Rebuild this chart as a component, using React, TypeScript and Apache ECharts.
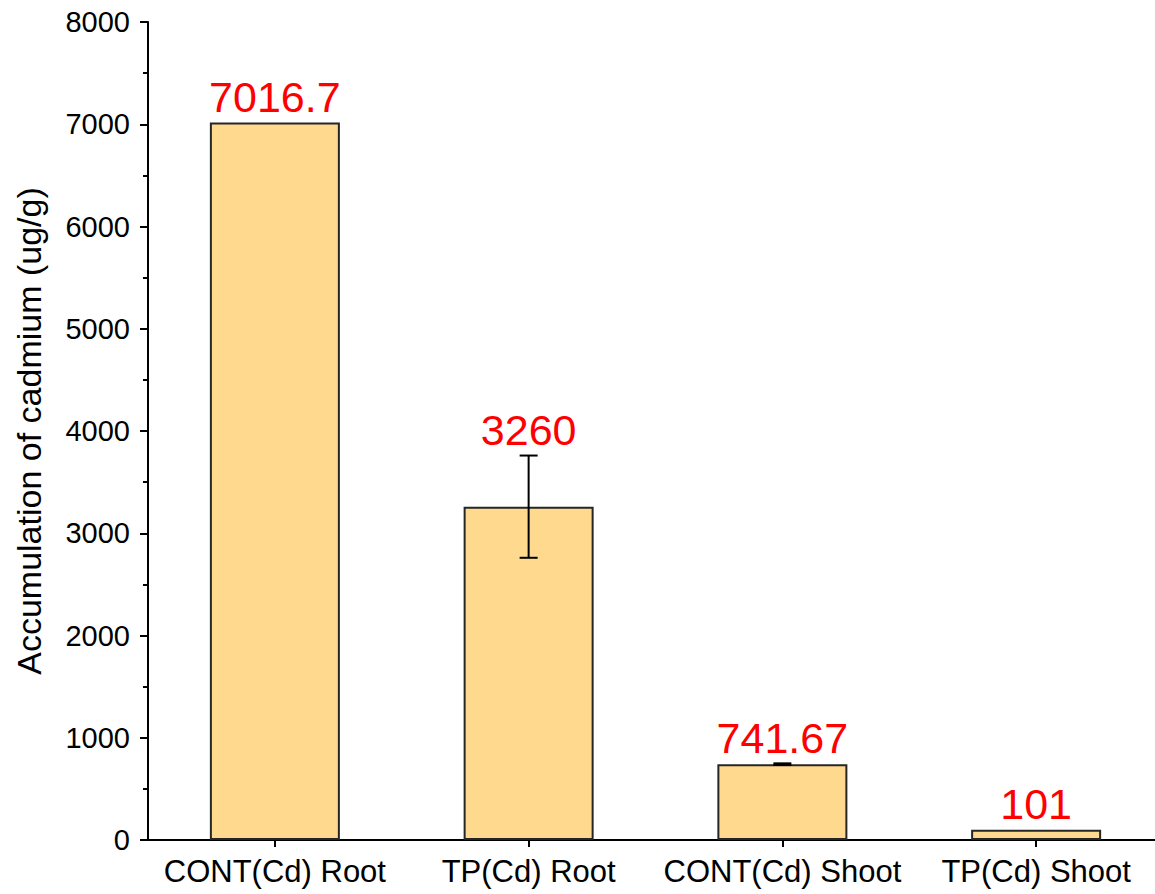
import React, { useEffect, useRef } from "react";
import * as echarts from "echarts";

const categories = ["CONT(Cd) Root", "TP(Cd) Root", "CONT(Cd) Shoot", "TP(Cd) Shoot"];
const values = [7016.7, 3260, 741.67, 101];
const errors = [0, 500, 8, 0];
const labels = ["7016.7", "3260", "741.67", "101"];
const yTicks = [0, 1000, 2000, 3000, 4000, 5000, 6000, 7000, 8000];

const FONT = "'Liberation Sans', Arial, sans-serif";

export default function App() {
  const ref = useRef<HTMLDivElement>(null);
  useEffect(() => {
    document.body.style.margin = "0";
    document.body.style.overflow = "hidden";
    const chart = echarts.init(ref.current!, undefined, { renderer: "svg" });
    const errData = values.map((v, i) => [i, v, errors[i], labels[i]]);
    chart.setOption({
      animation: false,
      backgroundColor: "#ffffff",
      textStyle: { fontFamily: FONT },
      grid: { left: 148, top: 22, width: 1015, height: 818, containLabel: false },
      xAxis: {
        type: "category",
        data: categories,
        axisLine: { show: true, lineStyle: { color: "#000", width: 2 } },
        axisTick: { show: true, alignWithLabel: true, length: 7, lineStyle: { color: "#000", width: 2 } },
        axisLabel: { color: "#000", fontSize: 31, fontFamily: FONT, margin: 16, interval: 0 },
        splitLine: { show: false },
      },
      yAxis: {
        type: "value",
        min: yTicks[0],
        max: yTicks[yTicks.length - 1],
        interval: 1000,
        name: "Accumulation of cadmium (ug/g)",
        nameLocation: "middle",
        nameGap: 102,
        nameTextStyle: { color: "#000", fontSize: 34, fontFamily: FONT },
        axisLine: { show: true, lineStyle: { color: "#000", width: 2 } },
        axisTick: { show: true, inside: false, length: 8, lineStyle: { color: "#000", width: 2 } },
        minorTick: { show: true, splitNumber: 2, length: 5, lineStyle: { color: "#000", width: 2 } },
        axisLabel: { color: "#000", fontSize: 29, fontFamily: FONT, margin: 18, formatter: (v: number) => String(v) },
        splitLine: { show: false },
        minorSplitLine: { show: false },
      },
      series: [
        {
          type: "bar",
          data: values,
          barWidth: 130,
          itemStyle: { color: "#FED98E", borderColor: "#262626", borderWidth: 2 },
          z: 2,
        },
        {
          type: "custom",
          data: errData,
          z: 5,
          renderItem: (params: any, api: any) => {
            const x = api.value(0);
            const v = api.value(1);
            const e = api.value(2);
            const lbl = errData[params.dataIndex][3];
            const top = api.coord([x, v + e]);
            const bot = api.coord([x, v - e]);
            const cx = top[0];
            const half = 9;
            const children: any[] = [];
            if (e > 0) {
              children.push(
                { type: "line", shape: { x1: cx, y1: top[1], x2: cx, y2: bot[1] }, style: { stroke: "#000", lineWidth: 2 } },
                { type: "line", shape: { x1: cx - half, y1: top[1], x2: cx + half, y2: top[1] }, style: { stroke: "#000", lineWidth: 2 } },
                { type: "line", shape: { x1: cx - half, y1: bot[1], x2: cx + half, y2: bot[1] }, style: { stroke: "#000", lineWidth: 2 } }
              );
            }
            children.push({
              type: "text",
              x: cx,
              y: top[1] - 4,
              style: {
                text: lbl,
                fill: "#ff0000",
                fontSize: 43,
                fontFamily: FONT,
                align: "center",
                verticalAlign: "bottom",
              },
            });
            return { type: "group", children };
          },
        },
      ],
    });
    return () => chart.dispose();
  }, []);
  return (
    <div style={{ width: 1155, height: 894, overflow: "hidden" }}>
      <div ref={ref} style={{ width: 1170, height: 894 }} />
    </div>
  );
}
